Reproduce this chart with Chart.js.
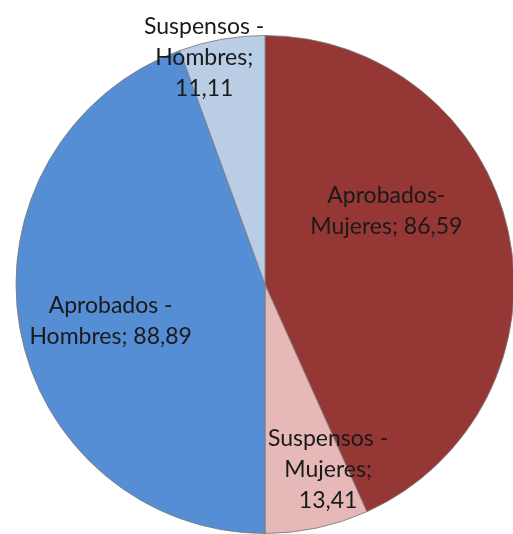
<!DOCTYPE html>
<html>
<head>
<meta charset="utf-8">
<script src="https://cdn.jsdelivr.net/npm/chart.js@4.4.1/dist/chart.umd.min.js"></script>
<style>
  html, body { margin: 0; padding: 0; background: #fff; overflow: hidden; }
  #wrap { position: relative; width: 530px; height: 534px; }
</style>
</head>
<body>
<div id="wrap"><canvas id="pie"></canvas></div>
<script>
// ── DATOS ────────────────────────────────────────────────────
var categorias = ['Aprobados-|Mujeres', 'Suspensos -|Mujeres', 'Aprobados -|Hombres', 'Suspensos -|Hombres'];
var valores = [86.59, 13.41, 88.89, 11.11];
var valorEnLineaNueva = [false, true, false, true];
var colores = ['#953735', '#E6B9B8', '#558ED5', '#B9CDE5'];

// posición de cada etiqueta dentro de su porción (fracción del ángulo, fracción del radio)
var posEtiquetas = [
  { a: 0.377, r: 0.57 },
  { a: 0.22, r: 0.785 },
  { a: 0.479, r: 0.637 },
  { a: 0.25, r: 0.944 }
];

function fmt(v) { return v.toFixed(2).replace('.', ','); }

function lineasEtiqueta(i) {
  var partes = categorias[i].split('|');
  var ultima = partes[partes.length - 1] + ';';
  if (valorEnLineaNueva[i]) {
    partes[partes.length - 1] = ultima;
    partes.push(fmt(valores[i]));
  } else {
    partes[partes.length - 1] = ultima + ' ' + fmt(valores[i]);
  }
  return partes;
}

// ── PLUGIN ETIQUETAS ─────────────────────────────────────────
var etiquetasPlugin = {
  id: 'etiquetas',
  afterDatasetsDraw: function (chart) {
    var ctx = chart.ctx;
    var meta = chart.getDatasetMeta(0);
    ctx.save();
    ctx.font = '23px Lato, "Open Sans", sans-serif';
    ctx.fillStyle = '#1a1a1a';
    ctx.textAlign = 'center';
    ctx.textBaseline = 'middle';
    var lh = 31;
    meta.data.forEach(function (arc, i) {
      var p = arc.getProps(['x', 'y', 'startAngle', 'endAngle', 'outerRadius'], true);
      var pos = posEtiquetas[i];
      var ang = p.startAngle + pos.a * (p.endAngle - p.startAngle);
      var cx = p.x + Math.cos(ang) * p.outerRadius * pos.r;
      var cy = p.y + Math.sin(ang) * p.outerRadius * pos.r;
      var lineas = lineasEtiqueta(i);
      var y0 = cy - (lineas.length - 1) * lh / 2;
      lineas.forEach(function (t, k) { ctx.fillText(t, cx, y0 + k * lh); });
    });
    ctx.restore();
  }
};

new Chart(document.getElementById('pie'), {
  type: 'pie',
  data: {
    labels: categorias.map(function (c) { return c.replace('|', ' '); }),
    datasets: [{
      data: valores,
      backgroundColor: colores,
      borderColor: 'rgba(125,125,125,0.85)',
      borderWidth: 1
    }]
  },
  options: {
    responsive: true,
    maintainAspectRatio: false,
    animation: false,
    layout: { padding: { left: 15, right: 15, top: 35, bottom: 0 } },
    plugins: { legend: { display: false }, tooltip: { enabled: false } }
  },
  plugins: [etiquetasPlugin]
});
</script>
</body>
</html>
